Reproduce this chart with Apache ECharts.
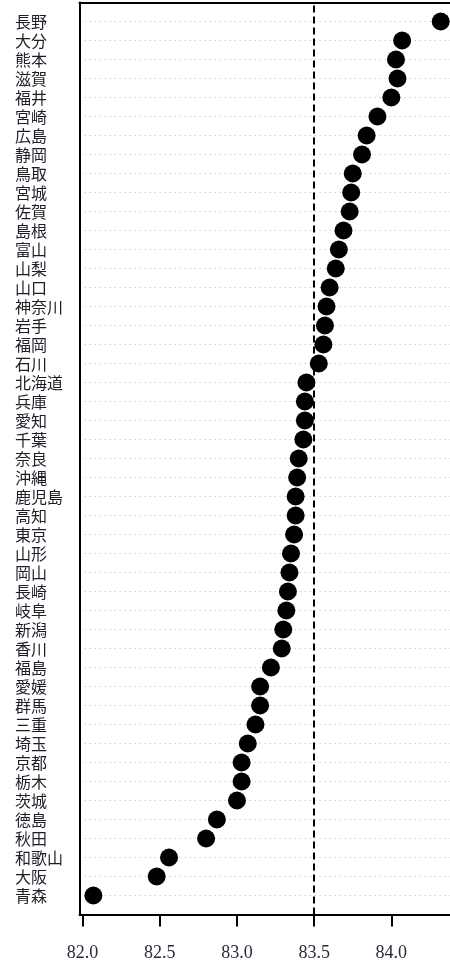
<!DOCTYPE html>
<html>
<head>
<meta charset="utf-8">
<script src="https://cdn.jsdelivr.net/npm/echarts@6/dist/echarts.min.js"></script>
<style>
  html, body { margin: 0; padding: 0; background: #fff; }
  #chart { width: 450px; height: 964px; }
</style>
</head>
<body>
<div id="chart"></div>
<script>
// Prefectures, listed top to bottom
const prefectures = [
  '長野','大分','熊本','滋賀','福井','宮崎','広島','静岡','鳥取','宮城',
  '佐賀','島根','富山','山梨','山口','神奈川','岩手','福岡','石川','北海道',
  '兵庫','愛知','千葉','奈良','沖縄','鹿児島','高知','東京','山形','岡山',
  '長崎','岐阜','新潟','香川','福島','愛媛','群馬','三重','埼玉','京都',
  '栃木','茨城','徳島','秋田','和歌山','大阪','青森'
];
const values = [
  84.32, 84.07, 84.03, 84.04, 84.00, 83.91, 83.84, 83.81, 83.75, 83.74,
  83.73, 83.69, 83.66, 83.64, 83.60, 83.58, 83.57, 83.56, 83.53, 83.45,
  83.44, 83.44, 83.43, 83.40, 83.39, 83.38, 83.38, 83.37, 83.35, 83.34,
  83.33, 83.32, 83.30, 83.29, 83.22, 83.15, 83.15, 83.12, 83.07, 83.03,
  83.03, 83.00, 82.87, 82.80, 82.56, 82.48, 82.07
];
const tickValues = [82.0, 82.5, 83.0, 83.5, 84.0];
const referenceValue = 83.5;

const n = prefectures.length;
const points = values.map((v, i) => [v, n - i]);

const xMin = 81.98;
const xMax = 84.38;
const frame = { color: '#000', width: 2 };

const chart = echarts.init(document.getElementById('chart'), null, { renderer: 'canvas' });
chart.setOption({
  animation: false,
  backgroundColor: '#fff',
  grid: { left: 79.5, right: 0, top: 2.5, height: 912 },
  xAxis: [{
    type: 'value',
    position: 'bottom',
    min: xMin,
    max: xMax,
    splitLine: { show: false },
    axisLine: { show: true, onZero: false, lineStyle: frame },
    axisTick: {
      show: true, length: 12, inside: false,
      customValues: tickValues,
      lineStyle: frame
    },
    axisLabel: {
      customValues: tickValues,
      formatter: v => v.toFixed(1),
      margin: 30,
      fontFamily: 'Liberation Serif',
      fontSize: 18,
      color: '#2a2a3a'
    }
  }, {
    // top edge of the frame
    type: 'value',
    position: 'top',
    min: xMin,
    max: xMax,
    splitLine: { show: false },
    axisLine: { show: true, onZero: false, lineStyle: frame },
    axisTick: { show: false },
    axisLabel: { show: false }
  }],
  yAxis: {
    type: 'value',
    min: 0,
    max: n + 1,
    interval: 1,
    axisLine: { show: true, onZero: false, lineStyle: frame },
    axisTick: { show: false },
    splitLine: {
      show: true,
      showMinLine: false,
      showMaxLine: false,
      lineStyle: { color: '#cfcfcf', width: 1, type: [1.5, 3.5] }
    },
    axisLabel: {
      align: 'left',
      margin: 64.5,
      fontFamily: 'Noto Sans CJK JP',
      fontSize: 16,
      color: '#1e1e28',
      formatter: v => {
        const idx = n - v;
        return (idx >= 0 && idx < n) ? prefectures[idx] : '';
      }
    }
  },
  series: [{
    type: 'scatter',
    xAxisIndex: 0,
    data: points,
    symbol: 'circle',
    symbolSize: 18,
    itemStyle: { color: '#000', opacity: 1 },
    markLine: {
      silent: true,
      symbol: ['none', 'none'],
      label: { show: false },
      lineStyle: { color: '#000', width: 2, type: [7, 4], opacity: 1 },
      data: [{ xAxis: referenceValue }]
    }
  }]
});
</script>
</body>
</html>
